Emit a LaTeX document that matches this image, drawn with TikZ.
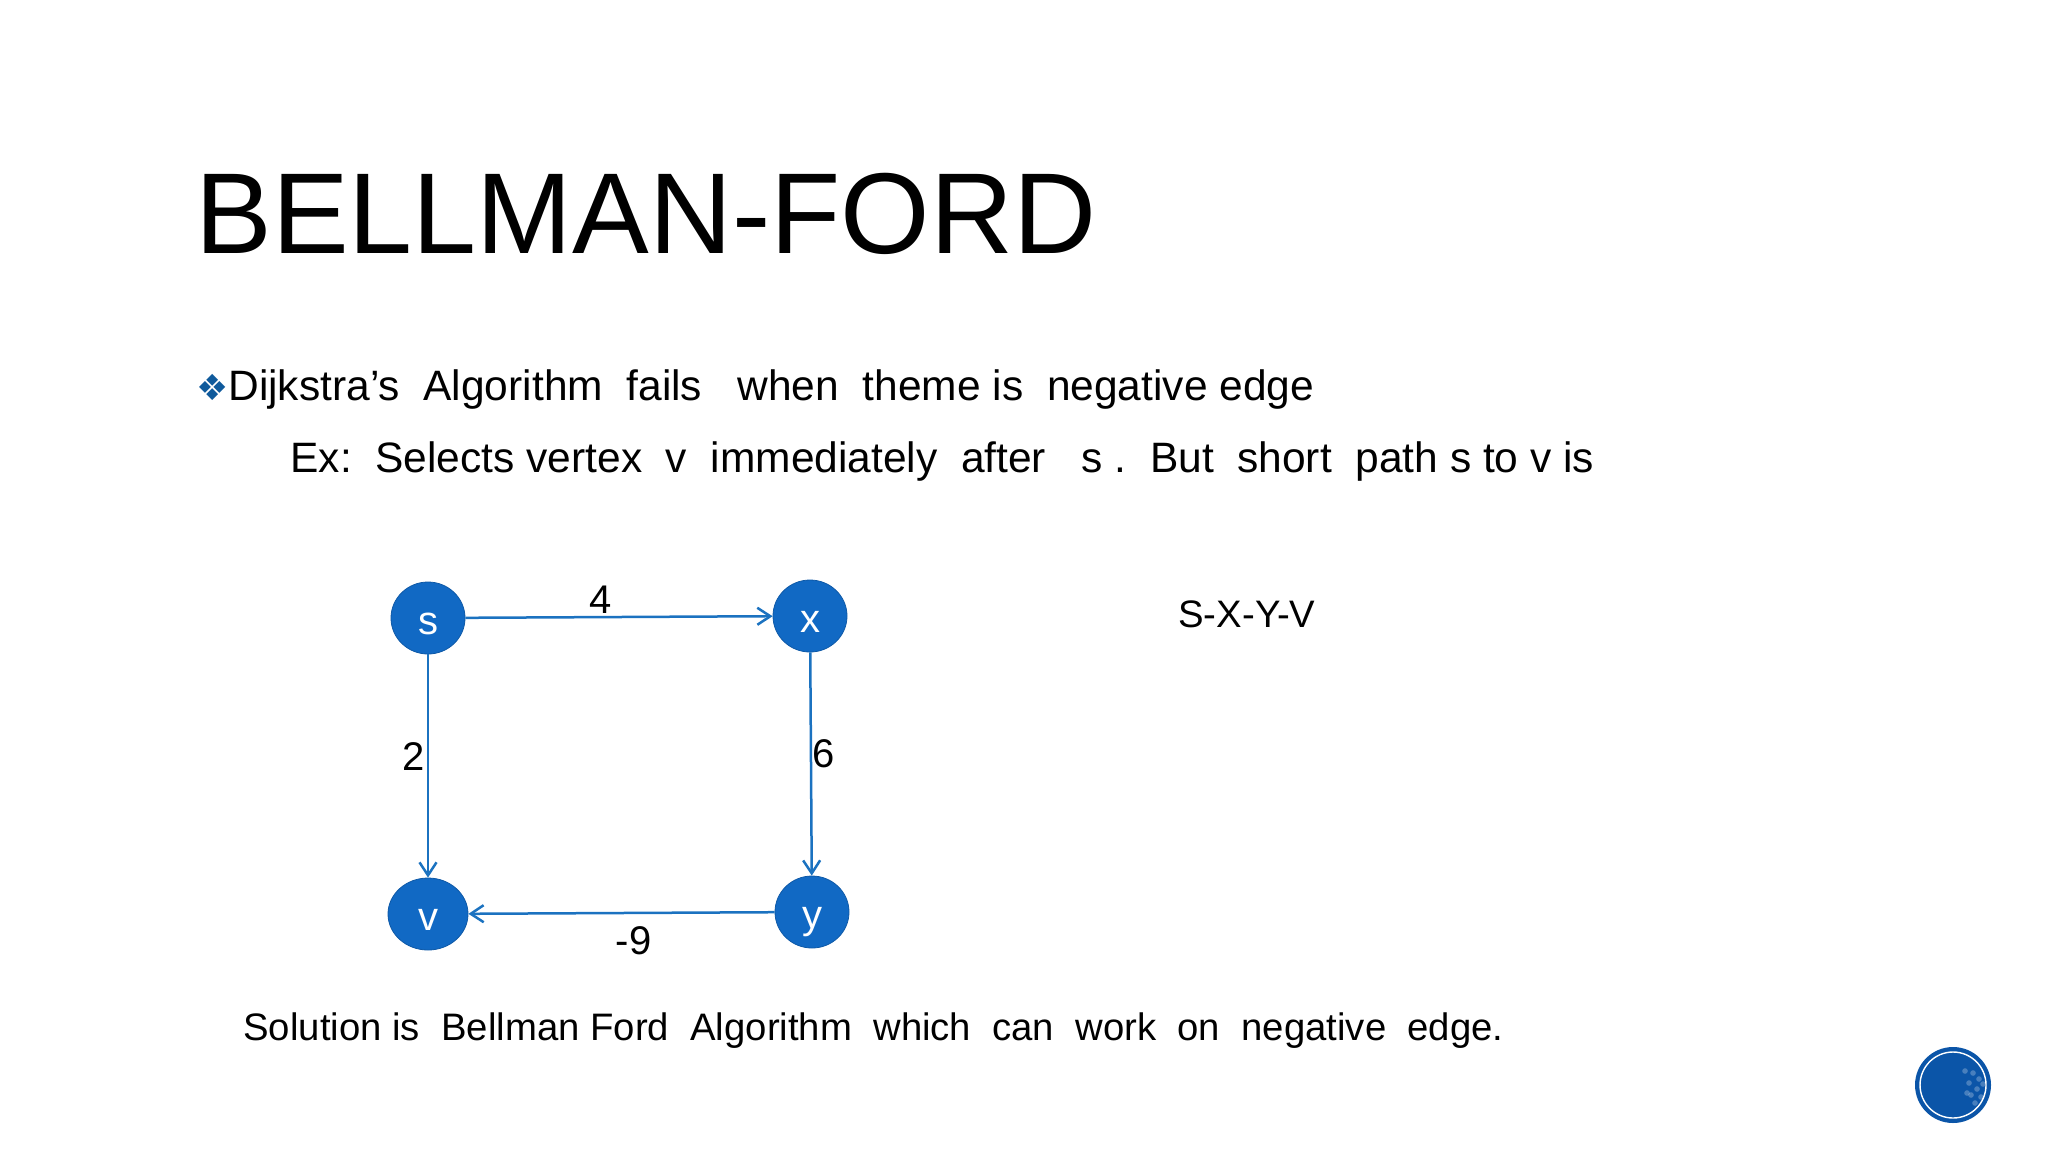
\documentclass[tikz,border=0pt]{standalone}
\usepackage{fontspec}
\setmainfont{Liberation Sans}
\newfontfamily\symbolfont{DejaVu Sans}
\usetikzlibrary{arrows.meta,positioning,shapes.geometric}
\definecolor{nodeblue}{HTML}{1169C4}
\definecolor{edgeblue}{HTML}{1B72C0}
\definecolor{bulletblue}{HTML}{0F5A9C}
\definecolor{badgeblue}{HTML}{0B55A8}
\begin{document}
\begin{tikzpicture}[
  x=0.5pt, y=-0.5pt,
  >={Straight Barb[length=6.5pt,width=8.5pt]},
  vertex/.style={ellipse, draw=nodeblue!85!black, fill=nodeblue, inner sep=0pt, line width=0.4pt,
                 minimum width=37pt, minimum height=36pt, text=white, text height=16.4pt, text depth=0pt,
                 font=\fontsize{20}{20}\selectfont},
  edge/.style={->, draw=edgeblue, line width=1.25pt},
  weight/.style={font=\fontsize{20}{20}\selectfont, text=black, inner sep=0pt},
  line/.style={anchor=base west, inner sep=0pt, text=black, font=\fontsize{21.25}{21.25}\selectfont},
  smallline/.style={line, font=\fontsize{19.15}{19.15}\selectfont},
]
\useasboundingbox (0,0) rectangle (2048,1152);

% Title
\node[anchor=base west, inner sep=0pt, text=black, font=\fontsize{57.5}{57.5}\selectfont] (title) at (195,253) {BELLMAN-FORD};

% Text lines
\node[anchor=base west, inner sep=0pt, text=bulletblue, font=\symbolfont\fontsize{18}{18}\selectfont] (bullet) at (196,400) {❖};
\node[line] (intro) at (228,400) {Dijkstra’s~~Algorithm~~fails~~~when~~theme is~~negative edge};
\node[line] (ex) at (290,472) {Ex:~~Selects vertex~~v~~immediately~~after~~~s .~~But~~short~~path s to v is};
\node[smallline] (path) at (1178,627) {S-X-Y-V};
\node[smallline] (solution) at (243,1040) {Solution is~~Bellman Ford~~Algorithm~~which~~can~~work~~on~~negative~~edge.};

% Graph
\node[vertex] (s) at (428,618) {s};
\node[vertex] (x) at (810,616) {x};
\node[vertex, minimum width=40pt] (v) at (428,914) {v};
\node[vertex] (y) at (812,912) {y};

\draw[edge] (s) -- (x) node[weight, pos=0.44, above=1pt] (w4) {4};
\draw[edge] (s) -- (v) node[weight, midway, left=1pt, yshift=4.5pt] (w2) {2};
\draw[edge] (x) -- (y) node[weight, midway, right=0pt, yshift=5pt] (w6) {6};
\draw[edge] (y) -- (v) node[weight, pos=0.46, below=6pt] (w9) {-9};

% Corner badge
\node[circle, fill=badgeblue, minimum size=38pt, inner sep=0pt] (badge) at (1953,1085) {};
\node[circle, draw=white, line width=0.7pt, minimum size=33pt, inner sep=0pt] (ring) at (badge) {};
\foreach \dx/\dy in {20/-12,26/-6,16/-2,24/4,18/10,28/12,22/18,12/-14,30/-1,14/8} {
  \fill[white, opacity=0.25] (1953+\dx,1085+\dy) circle (1.4pt);
}
\end{tikzpicture}
\end{document}
